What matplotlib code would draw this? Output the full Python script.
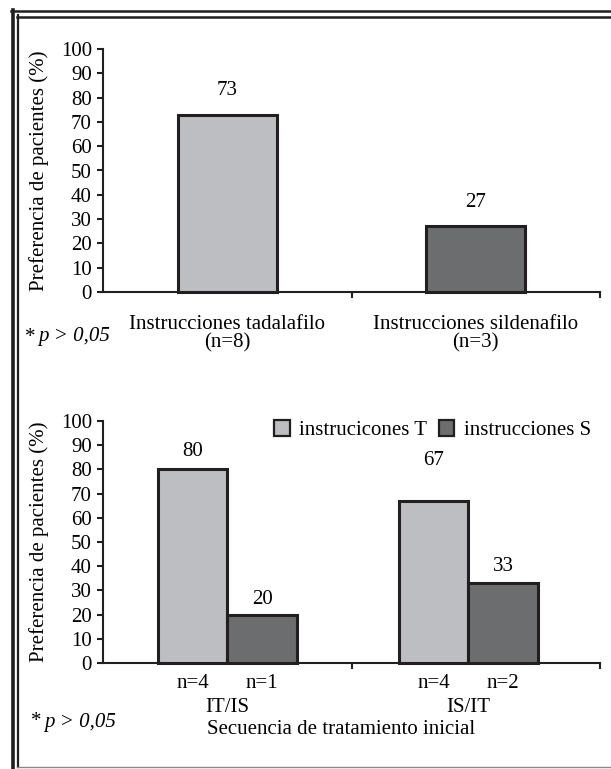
import matplotlib
matplotlib.use("Agg")
import matplotlib.pyplot as plt
from matplotlib.lines import Line2D
import numpy as np

# ---- data ----
top_categories = ["Instrucciones tadalafilo\n(n=8)", "Instrucciones sildenafilo\n(n=3)"]
top_values = [73, 27]

bottom_groups = ["IT/IS", "IS/IT"]
series_names = ["instrucicones T", "instrucciones S"]
values_T = [80, 67]
values_S = [20, 33]
n_T = ["n=4", "n=4"]
n_S = ["n=1", "n=2"]

yticks = list(range(0, 101, 10))
ylabel = "Preferencia de pacientes (%)"
xlabel_bottom = "Secuencia de tratamiento inicial"
p_note = "p > 0,05"

# ---- style ----
W, H = 611, 769
DPI = 100
FS = 15
LIGHT = "#bdbec1"
DARK = "#6c6d6f"
EDGE = "#231f20"

plt.rcParams["font.family"] = ["Liberation Serif", "DejaVu Serif"]
plt.rcParams["font.size"] = FS


def fx(x):
    return x / W


def fy(y):
    return 1 - y / H


fig = plt.figure(figsize=(W / DPI, H / DPI), dpi=DPI)

ax_left, ax_right = 103, 600
ax1 = fig.add_axes([fx(ax_left), fy(292), (ax_right - ax_left) / W, (292 - 49) / H])
ax2 = fig.add_axes([fx(ax_left), fy(663), (ax_right - ax_left) / W, (663 - 421) / H])


def style_axis(ax):
    ax.set_xlim(-0.5, 1.5)
    ax.set_ylim(0, 100)
    ax.set_yticks(yticks)
    ax.set_xticks([0.5, 1.5])
    ax.set_xticklabels([])
    for s in ["top", "right"]:
        ax.spines[s].set_visible(False)
    for s in ["left", "bottom"]:
        ax.spines[s].set_linewidth(1.5)
        ax.spines[s].set_color(EDGE)
    ax.tick_params(axis="both", direction="out", length=4, width=1.5,
                   color=EDGE, labelsize=FS, pad=4)
    ax.set_ylabel(ylabel, fontsize=FS)
    ax.yaxis.set_label_coords(-0.108, 0.5)
    ax.patch.set_alpha(0)


# ---- top chart ----
style_axis(ax1)
x1 = np.arange(len(top_values))
bars = ax1.bar(x1, top_values, width=0.4, color=[LIGHT, DARK],
               edgecolor=EDGE, linewidth=2.2, zorder=3, clip_on=False)
for b, v in zip(bars, top_values):
    ax1.annotate(f"{v}", (b.get_x() + b.get_width() / 2, v), xytext=(0, 17),
                 textcoords="offset points", ha="center", va="center", fontsize=FS)
for xi, lab in zip(x1, top_categories):
    ax1.text(xi, -0.095, lab, transform=ax1.get_xaxis_transform(),
             ha="center", va="top", fontsize=FS, linespacing=0.95)

# ---- bottom chart ----
style_axis(ax2)
group_x = np.array([0.0, 0.97])
bw = 0.28
bT = ax2.bar(group_x - bw / 2, values_T, width=bw, color=LIGHT, edgecolor=EDGE,
             linewidth=2.2, zorder=3, label=series_names[0], clip_on=False)
bS = ax2.bar(group_x + bw / 2, values_S, width=bw, color=DARK, edgecolor=EDGE,
             linewidth=2.2, zorder=3, label=series_names[1], clip_on=False)
# label offsets (points above the bar top), as placed in the original
offs_T = [13, 29]
offs_S = [11, 12]
for bars_, offs in [(bT, offs_T), (bS, offs_S)]:
    for bb, off in zip(bars_, offs):
        v = bb.get_height()
        ax2.annotate(f"{v:g}", (bb.get_x() + bb.get_width() / 2, v), xytext=(0, off),
                     textcoords="offset points", ha="center", va="center", fontsize=FS)
for i, g in enumerate(bottom_groups):
    ax2.text(group_x[i] - bw / 2, -0.045, n_T[i], transform=ax2.get_xaxis_transform(),
             ha="center", va="top", fontsize=FS)
    ax2.text(group_x[i] + bw / 2, -0.045, n_S[i], transform=ax2.get_xaxis_transform(),
             ha="center", va="top", fontsize=FS)
    ax2.text(group_x[i], -0.145, g, transform=ax2.get_xaxis_transform(),
             ha="center", va="top", fontsize=FS)
fig.text(fx(341), fy(730), xlabel_bottom, ha="center", va="center", fontsize=FS)

leg = ax2.legend(loc="upper left", bbox_to_anchor=(fx(266), fy(412)),
                 bbox_transform=fig.transFigure, ncol=2, frameon=False,
                 fontsize=FS, handlelength=0.75, handleheight=0.75,
                 handletextpad=0.45, columnspacing=0.55, borderaxespad=0)
for h in leg.legend_handles:
    h.set_linewidth(1.6)

# ---- p-value notes ----
for yy, xx in [(337, 25), (722, 31)]:
    fig.text(fx(xx), fy(yy), "*", ha="left", va="center", fontsize=FS)
    fig.text(fx(xx + 13), fy(yy), p_note, ha="left", va="center",
             fontsize=FS, fontstyle="italic")

# ---- page border (double line left/top) ----
tr = fig.transFigure
fig.add_artist(Line2D([fx(13), fx(13)], [fy(10), 0], transform=tr, color=EDGE, lw=2.6))
fig.add_artist(Line2D([fx(17.5), fx(17.5)], [fy(15), fy(767)], transform=tr, color=EDGE, lw=1.6))
fig.add_artist(Line2D([fx(11), 1], [fy(11), fy(11)], transform=tr, color=EDGE, lw=1.8))
fig.add_artist(Line2D([fx(17), 1], [fy(16.5), fy(16.5)], transform=tr, color=EDGE, lw=1.8))
fig.add_artist(Line2D([fx(17), 1], [fy(767), fy(767)], transform=tr, color="#888888", lw=1.0))

fig.savefig("out.png", dpi=DPI)
